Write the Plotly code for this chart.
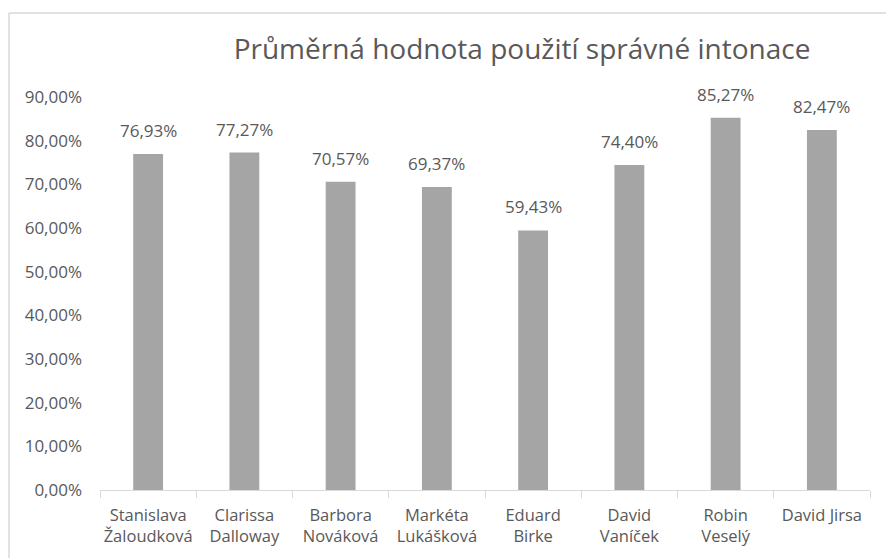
import plotly.graph_objects as go

categories = ["Stanislava<br>Žaloudková", "Clarissa<br>Dalloway", "Barbora<br>Nováková",
              "Markéta<br>Lukášková", "Eduard<br>Birke", "David<br>Vaníček",
              "Robin<br>Veselý", "David Jirsa"]
values = [76.93, 77.27, 70.57, 69.37, 59.43, 74.40, 85.27, 82.47]
tick_vals = [0, 10, 20, 30, 40, 50, 60, 70, 80, 90]
tick_text = ["0,00%", "10,00%", "20,00%", "30,00%", "40,00%", "50,00%",
             "60,00%", "70,00%", "80,00%", "90,00%"]
title_text = "Průměrná hodnota použití správné intonace"

W, H = 886, 558
L, R, T, B = 100, 16, 97, 68
pw = W - L - R
ph = H - T - B

def px(x):
    return (x - L) / pw

def py(y):
    return 1 - (y - T) / ph

FONT = "Open Sans"
TXT = "#595959"

labels = [f"{v:.2f}".replace(".", ",") + "%" for v in values]

fig = go.Figure(go.Bar(
    x=categories, y=values, marker_color="#A5A5A5", marker_line_width=0,
))

for c, v, t in zip(categories, values, labels):
    fig.add_annotation(x=c, y=v, text=t, showarrow=False, yanchor="bottom", yshift=10,
                       font=dict(family=FONT, size=17, color=TXT))

fig.update_layout(
    width=W, height=H,
    margin=dict(l=L, r=R, t=T, b=B, autoexpand=False),
    paper_bgcolor="white", plot_bgcolor="white",
    bargap=0.69,
    showlegend=False,
    title=dict(text=title_text, x=522 / W, xanchor="center", y=1 - 49 / H, yanchor="middle",
               font=dict(family=FONT, size=28, color=TXT)),
    xaxis=dict(showgrid=False, showline=True, linecolor="#D9D9D9", linewidth=1,
               ticks="outside", ticklen=7, tickcolor="#D9D9D9", tickson="boundaries",
               tickangle=0, automargin=False,
               tickfont=dict(family=FONT, size=16.5, color=TXT), ticklabelstandoff=10),
    yaxis=dict(range=[0, 90], tickvals=tick_vals, ticktext=tick_text, automargin=False,
               showgrid=False, showline=False, zeroline=False,
               tickfont=dict(family=FONT, size=17, color=TXT), ticks="", ticklabelstandoff=17),
    shapes=[
        dict(type="line", xref="paper", yref="paper", x0=px(9), x1=px(W + 5), y0=py(13), y1=py(13),
             line=dict(color="#D9D9D9", width=1.5)),
        dict(type="line", xref="paper", yref="paper", x0=px(9), x1=px(9), y0=py(13), y1=py(H + 5),
             line=dict(color="#D9D9D9", width=1.5)),
    ],
)

fig.write_html("out.html", config={"displayModeBar": False},
               post_script="document.body.style.margin='0';document.body.style.overflow='hidden';")
